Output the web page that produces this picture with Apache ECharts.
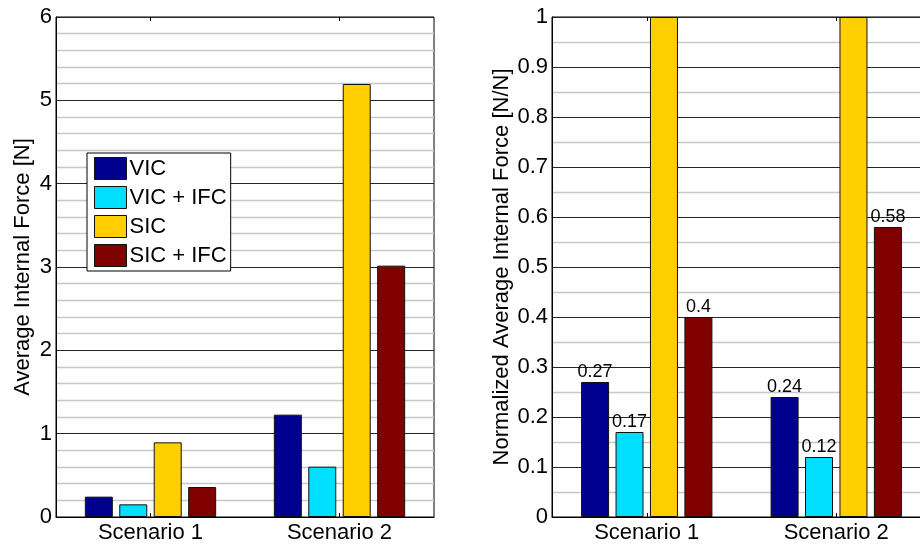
<!DOCTYPE html>
<html>
<head>
<meta charset="utf-8">
<script src="https://cdn.jsdelivr.net/npm/echarts@6/dist/echarts.min.js"></script>
<style>
  html, body { margin: 0; padding: 0; background: #fff; }
  #chart { width: 920px; height: 550px; }
</style>
</head>
<body>
<div id="chart"></div>
<script>
// Scenarios on the x axis
const categories = ['Scenario 1', 'Scenario 2'];
const seriesNames = ['VIC', 'VIC + IFC', 'SIC', 'SIC + IFC'];

// Average internal force [N]
const forceVIC = [0.244, 1.228];
const forceVICIFC = [0.152, 0.604];
const forceSIC = [0.896, 5.196];
const forceSICIFC = [0.36, 3.016];

// Normalized average internal force [N/N]
const normVIC = [0.27, 0.24];
const normVICIFC = [0.17, 0.12];
const normSIC = [1, 1];
const normSICIFC = [0.4, 0.58];

const colors = ['#00008F', '#00DFFF', '#FFCF00', '#800000'];
const FONT = "'Liberation Sans', Arial, Helvetica, sans-serif";
const TEXT_SIZE = 22;

const chart = echarts.init(document.getElementById('chart'), null, { renderer: 'canvas' });

function bottomAxis(gridIndex) {
  return {
    type: 'category', gridIndex, data: categories, position: 'bottom',
    axisLine: { show: true, lineStyle: { color: '#000', width: 1 } },
    axisTick: { show: true, inside: true, alignWithLabel: true, length: 4, lineStyle: { color: '#000' } },
    axisLabel: { color: '#000', fontSize: TEXT_SIZE, fontFamily: FONT, margin: 5 },
    splitLine: { show: false }
  };
}
function topAxis(gridIndex) {
  return {
    type: 'category', gridIndex, data: categories, position: 'top',
    axisLine: { show: false },
    axisTick: { show: true, inside: true, alignWithLabel: true, length: 4, lineStyle: { color: '#000' } },
    axisLabel: { show: false },
    splitLine: { show: false }
  };
}
function valueAxis(gridIndex, max, interval, minorSplit, name, nameGap) {
  return {
    type: 'value', gridIndex, min: 0, max, interval,
    name, nameLocation: 'middle', nameGap, nameRotate: 90,
    nameTextStyle: { color: '#000', fontSize: TEXT_SIZE, fontFamily: FONT },
    axisLine: { show: true, lineStyle: { color: '#000', width: 1 } },
    axisTick: { show: false },
    axisLabel: { color: '#000', fontSize: TEXT_SIZE, fontFamily: FONT, margin: 4 },
    splitLine: { show: true, lineStyle: { color: '#262626', width: 1 } },
    minorTick: { show: false, splitNumber: minorSplit },
    minorSplitLine: { show: true, lineStyle: { color: '#c8c8c8', width: 1.3 } }
  };
}

const barBase = {
  type: 'bar', barWidth: 28, barGap: '23%',
  itemStyle: { borderColor: '#111', borderWidth: 1 }
};

const leftData = [forceVIC, forceVICIFC, forceSIC, forceSICIFC];
const rightData = [normVIC, normVICIFC, normSIC, normSICIFC];

const series = [];
leftData.forEach((d, i) => {
  series.push(Object.assign({}, barBase, {
    name: seriesNames[i], xAxisIndex: 0, yAxisIndex: 0, data: d,
    itemStyle: Object.assign({}, barBase.itemStyle, { color: colors[i] })
  }));
});
rightData.forEach((d, i) => {
  series.push(Object.assign({}, barBase, {
    name: seriesNames[i], xAxisIndex: 2, yAxisIndex: 1, data: d,
    itemStyle: Object.assign({}, barBase.itemStyle, { color: colors[i] }),
    label: {
      show: i !== 2, position: 'top', distance: 1,
      color: '#000', fontSize: 18, fontFamily: FONT,
      formatter: p => String(p.value)
    }
  }));
});

// The right panel runs slightly past the canvas edge, so bounds clamping is disabled
const gridBase = {
  top: 17, bottom: 33, show: true, borderColor: '#000', borderWidth: 1,
  backgroundColor: '#fff', containLabel: false, outerBoundsMode: 'none'
};

chart.setOption({
  animation: false,
  backgroundColor: '#fff',
  grid: [
    Object.assign({}, gridBase, { left: 56, width: 378 }),
    Object.assign({}, gridBase, { left: 552, width: 379 })
  ],
  legend: {
    data: seriesNames, orient: 'vertical', left: 87, top: 153,
    icon: 'rect',
    itemWidth: 32, itemHeight: 22, itemGap: 6,
    padding: [4, 4, 4, 7],
    backgroundColor: '#fff', borderColor: '#000', borderWidth: 1,
    textStyle: { color: '#000', fontSize: TEXT_SIZE, fontFamily: FONT, padding: [0, 0, 0, -2] },
    itemStyle: { borderColor: '#111', borderWidth: 1 },
    selectedMode: false
  },
  xAxis: [bottomAxis(0), topAxis(0), bottomAxis(1), topAxis(1)],
  yAxis: [
    valueAxis(0, 6, 1, 5, 'Average Internal Force [N]', 22),
    valueAxis(1, 1, 0.1, 2, 'Normalized Average Internal Force [N/N]', 39)
  ],
  series
});
</script>
</body>
</html>
